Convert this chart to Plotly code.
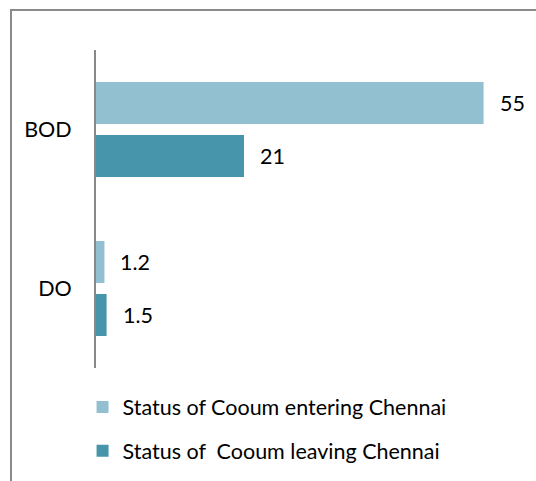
import plotly.graph_objects as go

parameters = ["BOD", "DO"]
entering = [55, 1.2]
leaving = [21, 1.5]
series_names = ["Status of Cooum entering Chennai", "Status of  Cooum leaving Chennai"]
colors = ["#93C0D1", "#4695AA"]

FONT = "Lato, Carlito, Calibri, sans-serif"
FSIZE = 21.5

fig = go.Figure()
for i, (name, vals, col) in enumerate(zip(series_names, [entering, leaving], colors)):
    fig.add_trace(go.Bar(
        y=parameters, x=vals, orientation="h", name=name,
        marker=dict(color=col, line=dict(width=0)),
        legendgroup=f"g{i}",
    ))

# value labels just past the end of each bar, nudged onto their bar within the group
for i, tr in enumerate(fig.data):
    for yv, xv in zip(tr.y, tr.x):
        fig.add_annotation(
            x=xv, y=yv, text=f"{xv:g}", showarrow=False,
            xanchor="left", xshift=14,
            yshift=26.5 if i == 0 else -26.5,
            font=dict(family=FONT, size=FSIZE, color="#000000"),
            yref="y", xref="x",
        )

fig.update_layout(
    width=536, height=481,
    margin=dict(l=96, r=20, t=50, b=113, autoexpand=False),
    paper_bgcolor="white", plot_bgcolor="white",
    barmode="group", bargap=0.333, bargroupgap=0.2075,
    showlegend=True,
    legend=dict(
        x=-0.032, y=-0.058, xanchor="left", yanchor="top",
        font=dict(family=FONT, size=FSIZE, color="#000000"),
        itemwidth=30, tracegroupgap=13, traceorder="grouped",
    ),
    xaxis=dict(range=[0, 59.6], visible=False, fixedrange=True),
    yaxis=dict(
        autorange="reversed", showline=True, linecolor="#888888", linewidth=2,
        ticks="", showgrid=False, ticklabelstandoff=18,
        tickfont=dict(family=FONT, size=FSIZE, color="#000000"),
    ),
    shapes=[dict(
        type="rect", xref="paper", yref="paper",
        x0=(11 - 96) / 420, x1=(545 - 96) / 420,
        y0=(368 - 490) / 318, y1=(368 - 10) / 318,
        line=dict(color="#8A8A8A", width=2), fillcolor="rgba(0,0,0,0)",
        layer="below",
    )],
)

fig.write_html("out.html")
